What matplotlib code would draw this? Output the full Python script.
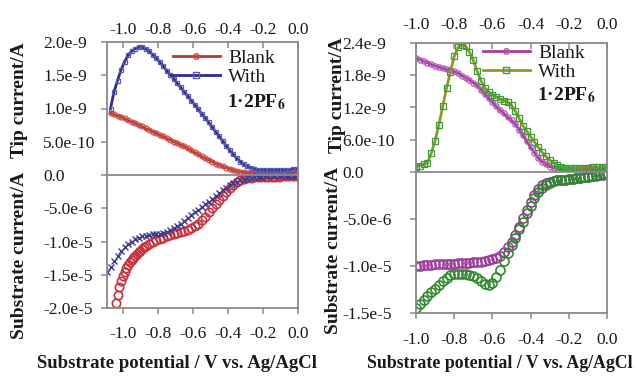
import numpy as np
import matplotlib
matplotlib.use('Agg')
import matplotlib.pyplot as plt
from matplotlib.lines import Line2D

plt.rcParams['font.family'] = ['Liberation Serif', 'DejaVu Serif']
plt.rcParams['mathtext.fontset'] = 'stix'

# ---------------- data ----------------
xticks = [-1.0, -0.8, -0.6, -0.4, -0.2, 0.0]
xtick_labels = ['-1.0', '-0.8', '-0.6', '-0.4', '-0.2', '0.0']

# left panel, tip current (1e-9 A)
left_tip_x = np.round(np.arange(-1.07, 0.0, 0.02), 2)
left_tip_blank = [0.93, 0.91, 0.89, 0.87, 0.85, 0.82, 0.80, 0.78, 0.75, 0.73,
                  0.70, 0.68, 0.65, 0.63, 0.60, 0.58, 0.55, 0.53, 0.50, 0.48,
                  0.45, 0.43, 0.40, 0.37, 0.34, 0.31, 0.28, 0.25, 0.23, 0.20,
                  0.17, 0.15, 0.13, 0.11, 0.09, 0.07, 0.055, 0.045, 0.04, 0.035,
                  0.03, 0.03, 0.03, 0.03, 0.03, 0.03, 0.03, 0.03, 0.03, 0.03,
                  0.03, 0.03, 0.03, 0.03]
left_tip_with = [1.00, 1.25, 1.42, 1.58, 1.70, 1.80, 1.86, 1.90, 1.92, 1.92,
                 1.90, 1.86, 1.81, 1.76, 1.70, 1.64, 1.57, 1.51, 1.45, 1.38,
                 1.32, 1.25, 1.19, 1.12, 1.06, 0.99, 0.92, 0.86, 0.79, 0.72,
                 0.65, 0.58, 0.51, 0.44, 0.37, 0.31, 0.25, 0.20, 0.16, 0.13,
                 0.11, 0.09, 0.08, 0.075, 0.07, 0.07, 0.07, 0.07, 0.07, 0.07,
                 0.08, 0.08, 0.09, 0.09]

# left panel, substrate current (1e-5 A)
left_sub_blank_x = np.concatenate([np.round(np.arange(-1.04, -0.865, 0.01), 2),
                                   np.round(np.arange(-0.85, 0.0, 0.02), 2)])
left_sub_blank = [-1.93, -1.80, -1.69, -1.60, -1.52, -1.46, -1.40, -1.35, -1.31, -1.28,
                  -1.25, -1.22, -1.19, -1.16, -1.14, -1.11, -1.09, -1.07,
                  -1.04,
                  -1.01, -0.98, -0.96, -0.94, -0.92, -0.90, -0.89, -0.87, -0.86, -0.84,
                  -0.82, -0.80, -0.77, -0.73, -0.68, -0.63, -0.56, -0.50, -0.44, -0.38,
                  -0.32, -0.26, -0.20, -0.15, -0.11, -0.08, -0.06, -0.05, -0.04, -0.035,
                  -0.03, -0.03, -0.03, -0.03, -0.025, -0.025, -0.025, -0.02, -0.02, -0.02,
                  -0.02, -0.02]
left_sub_with_x = np.round(np.arange(-1.09, 0.0, 0.02), 2)
left_sub_with = [-1.46, -1.38, -1.30, -1.22, -1.14, -1.08, -1.04, -1.00, -0.96, -0.94,
                 -0.92, -0.91, -0.90, -0.89, -0.89, -0.88, -0.87, -0.85, -0.83, -0.80,
                 -0.77, -0.73, -0.69, -0.64, -0.60, -0.56, -0.52, -0.48, -0.44, -0.40,
                 -0.36, -0.32, -0.27, -0.23, -0.19, -0.15, -0.12, -0.10, -0.08, -0.06,
                 -0.05, -0.04, -0.03, -0.03, -0.025, -0.02, -0.02, -0.02, -0.015, -0.015,
                 -0.015, -0.01, -0.01, -0.01, -0.01]

# right panel
right_x = np.round(np.arange(-1.0, 0.001, 0.02), 2)
right_tip_blank = [2.12, 2.09, 2.06, 2.03, 2.00, 1.97, 1.95, 1.93, 1.91, 1.89,
                   1.87, 1.84, 1.79, 1.75, 1.71, 1.66, 1.61, 1.53, 1.45, 1.37,
                   1.30, 1.22, 1.15, 1.09, 1.02, 0.96, 0.89, 0.79, 0.68, 0.57,
                   0.46, 0.36, 0.26, 0.19, 0.14, 0.10, 0.08, 0.07, 0.06, 0.05,
                   0.05, 0.05, 0.05, 0.05, 0.05, 0.05, 0.05, 0.05, 0.05, 0.05,
                   0.05]
right_tip_with = [0.10, 0.12, 0.14, 0.17, 0.35, 0.58, 0.88, 1.22, 1.56, 1.86,
                  2.15, 2.32, 2.37, 2.34, 2.23, 2.08, 1.88, 1.70, 1.57, 1.49,
                  1.44, 1.40, 1.36, 1.33, 1.30, 1.24, 1.13, 1.00, 0.86, 0.76,
                  0.66, 0.56, 0.46, 0.37, 0.29, 0.22, 0.17, 0.13, 0.10, 0.08,
                  0.07, 0.07, 0.07, 0.08, 0.08, 0.08, 0.09, 0.09, 0.09, 0.10,
                  0.10]
right_sub_blank = [-1.00, -1.00, -0.99, -0.99, -0.99, -0.98, -0.98, -0.98, -0.98, -0.98,
                   -0.98, -0.97, -0.97, -0.97, -0.97, -0.96, -0.96, -0.96, -0.95, -0.94,
                   -0.93, -0.91, -0.89, -0.85, -0.80, -0.74, -0.67, -0.58, -0.49, -0.40,
                   -0.32, -0.24, -0.18, -0.14, -0.12, -0.11, -0.10, -0.09, -0.085, -0.08,
                   -0.075, -0.07, -0.065, -0.06, -0.055, -0.05, -0.045, -0.04, -0.035, -0.03,
                   -0.02]
right_sub_with = [-1.45, -1.40, -1.36, -1.32, -1.28, -1.24, -1.20, -1.16, -1.13, -1.10,
                  -1.09, -1.08, -1.08, -1.09, -1.10, -1.11, -1.13, -1.16, -1.19, -1.20,
                  -1.18, -1.12, -1.04, -0.95, -0.86, -0.78, -0.70, -0.61, -0.53, -0.44,
                  -0.36, -0.28, -0.21, -0.17, -0.14, -0.12, -0.10, -0.09, -0.085, -0.08,
                  -0.075, -0.07, -0.065, -0.06, -0.055, -0.05, -0.04, -0.035, -0.03, -0.02,
                  -0.015]

left_tip_yticks = [0.0, 0.5e-9, 1.0e-9, 1.5e-9, 2.0e-9]
left_tip_ylabels = ['0.0', '5.0e-10', '1.0e-9', '1.5e-9', '2.0e-9']
left_sub_yticks = [-2.0e-5, -1.5e-5, -1.0e-5, -5.0e-6]
left_sub_ylabels = ['-2.0e-5', '-1.5e-5', '-1.0e-5', '-5.0e-6']
right_tip_yticks = [0.0, 0.6e-9, 1.2e-9, 1.8e-9, 2.4e-9]
right_tip_ylabels = ['0.0', '6.0e-10', '1.2e-9', '1.8e-9', '2.4e-9']
right_sub_yticks = [-1.5e-5, -1.0e-5, -5.0e-6]
right_sub_ylabels = ['-1.5e-5', '-1.0e-5', '-5.0e-6']

legend_labels = ['Blank', 'With']
compound_label = r'1·2PF$_\mathbf{6}$'
tip_label = 'Tip current/A'
sub_label = 'Substrate current/A'
x_label = 'Substrate potential / V vs. Ag/AgCl'

# ---------------- figure ----------------
W, H = 640, 376
fig = plt.figure(figsize=(6.4, 3.76), dpi=100)

def px_axes(x0, y0, x1, y1):
    return fig.add_axes([x0 / W, 1 - y1 / H, (x1 - x0) / W, (y1 - y0) / H])

SPINE = '#8a8a8a'
TXT = '#1a1a1a'
TICKFS = 12.5

def style(ax, top, label_pad, xpad):
    for s in ax.spines.values():
        s.set_color(SPINE)
        s.set_linewidth(1.3)
    ax.set_xticks(xticks)
    if top:
        ax.xaxis.tick_top()
        ax.set_xticklabels(xtick_labels)
        ax.tick_params(axis='x', direction='in', length=4, pad=xpad)
    else:
        ax.set_xticklabels(xtick_labels)
        ax.tick_params(axis='x', direction='out', length=4, pad=xpad)
    ax.tick_params(axis='both', colors=SPINE, labelcolor=TXT, labelsize=TICKFS, width=1.1)
    ax.tick_params(axis='y', direction='out', length=4, pad=label_pad)
    for lbl in ax.get_yticklabels():
        lbl.set_ha('left')

# colours
red_line, red_mk = '#a8402c', '#d04a44'
blue_line, blue_mk = '#2c2c8e', '#5a5ab4'
mag_line, mag_mk = '#a43ca4', '#b454b4'
grn_line, grn_mk = '#8c9a2a', '#3e9c3e'

# ---- left panel ----
axLt = px_axes(107, 42, 298, 175)
axLb = px_axes(107, 175, 298, 308)

axLt.plot(left_tip_x, np.array(left_tip_blank) * 1e-9, color=red_line, lw=2,
          marker='o', ms=3.5, mfc='none', mec=red_mk, mew=0.9)
axLt.plot(left_tip_x, np.array(left_tip_with) * 1e-9, color=blue_line, lw=2,
          marker='s', ms=3.5, mfc='none', mec=blue_mk, mew=0.9)
axLt.set_xlim(-1.09, 0.0)
axLt.set_ylim(0, 2.0e-9)
axLt.set_yticks(left_tip_yticks)
axLt.set_yticklabels(left_tip_ylabels)
style(axLt, True, 42, 3)
axLt.spines['bottom'].set_visible(False)

axLb.plot(left_sub_blank_x, np.array(left_sub_blank) * 1e-5, ls='none',
          marker='o', ms=6, mfc='none', mec='#c8303c', mew=1.2)
axLb.plot(left_sub_with_x, np.array(left_sub_with) * 1e-5, ls='none',
          marker='x', ms=5, mec='#3c3c90', mew=1.0)
axLb.set_xlim(-1.09, 0.0)
axLb.set_ylim(-2.0e-5, 0)
axLb.set_yticks(left_sub_yticks)
axLb.set_yticklabels(left_sub_ylabels)
style(axLb, False, 42, 9)

# ---- right panel ----
axRt = px_axes(416, 43, 607, 172)
axRb = px_axes(416, 172, 607, 313)

axRt.plot(right_x, np.array(right_tip_blank) * 1e-9, color=mag_line, lw=2,
          marker='o', ms=3.8, mfc='none', mec=mag_mk, mew=0.9)
axRt.plot(right_x, np.array(right_tip_with) * 1e-9, color=grn_line, lw=2,
          marker='s', ms=3.8, mfc='none', mec=grn_mk, mew=0.9)
axRt.set_xlim(-1.0, 0.0)
axRt.set_ylim(0, 2.4e-9)
axRt.set_yticks(right_tip_yticks)
axRt.set_yticklabels(right_tip_ylabels)
style(axRt, True, 49, 7)
axRt.spines['bottom'].set_visible(False)

axRb.plot(right_x, np.array(right_sub_blank) * 1e-5, ls='none',
          marker='o', ms=6.5, mfc='none', mec='#9c3a9c', mew=1.2)
axRb.plot(right_x, np.array(right_sub_with) * 1e-5, ls='none',
          marker='o', ms=6.5, mfc='none', mec='#2e8a2e', mew=1.2)
axRb.set_xlim(-1.0, 0.0)
axRb.set_ylim(-1.5e-5, 0)
axRb.set_yticks(right_sub_yticks)
axRb.set_yticklabels(right_sub_ylabels)
style(axRb, False, 49, 10)

# ---- legends ----
LEGFS = 14

def add_legend(ax, x0, y0, c1, m1, c2, m2, mk1, mk2):
    handles = [Line2D([], [], color=c1, lw=2, marker=mk1, ms=4, mfc='none', mec=m1),
               Line2D([], [], color=c2, lw=2, marker=mk2, ms=4, mfc='none', mec=m2)]
    leg = ax.legend(handles, legend_labels, loc='upper left',
                    bbox_to_anchor=(x0 / W, 1 - y0 / H), bbox_transform=fig.transFigure,
                    frameon=False, fontsize=LEGFS, handlelength=2.4,
                    handletextpad=0.45, labelspacing=0.08, borderpad=0.1,
                    borderaxespad=0)
    for t in leg.get_texts():
        t.set_color(TXT)
    return leg

add_legend(axLt, 171, 47, red_line, red_mk, blue_line, blue_mk, 'o', 's')
fig.text(227 / W, 1 - 102 / H, compound_label, fontsize=LEGFS, color=TXT,
         fontweight='bold', ha='left', va='center')
add_legend(axRt, 481, 42, mag_line, mag_mk, grn_line, grn_mk, 'o', 's')
fig.text(537 / W, 1 - 95 / H, compound_label, fontsize=LEGFS, color=TXT,
         fontweight='bold', ha='left', va='center')

# ---- axis titles ----
lab_kw = dict(rotation=90, ha='center', va='center', fontweight='bold',
              fontsize=14, color=TXT)
fig.text(20 / W, 1 - 100 / H, tip_label, **lab_kw)
fig.text(20 / W, 1 - 255 / H, sub_label, **lab_kw)
fig.text(337 / W, 1 - 95 / H, tip_label, **lab_kw)
fig.text(334 / W, 1 - 250 / H, sub_label, **lab_kw)

fig.text(177 / W, 1 - 364 / H, x_label, ha='center', va='center',
         fontweight='bold', fontsize=13.5, color=TXT)
fig.text(500 / W, 1 - 364 / H, x_label, ha='center', va='center',
         fontweight='bold', fontsize=12.8, color=TXT)

fig.savefig('out.png', dpi=100)
